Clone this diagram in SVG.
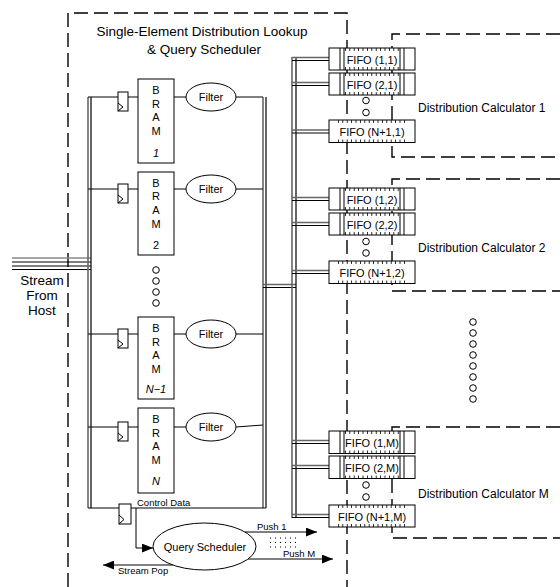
<svg xmlns="http://www.w3.org/2000/svg" width="560" height="587" viewBox="0 0 560 587">
<defs>
<style>
text{font-family:"Liberation Sans",Arial,sans-serif;fill:#000}
.t13{font-size:13.5px}
.t12{font-size:12px}
.t11{font-size:11px}
.t9{font-size:9.5px}
.ln{stroke:#000;stroke-width:1;fill:none}
.bus{stroke:#000;stroke-width:1.2;fill:none}
.bus2{stroke:#666;stroke-width:1.6;fill:none}
.dash{stroke:#000;stroke-width:1.4;fill:none;stroke-dasharray:14 6}
.box{fill:#fff;stroke:#000;stroke-width:1}
.tick{stroke:#000;stroke-width:3;stroke-dasharray:0.8 3.6;fill:none}
.dot{fill:#fff;stroke:#000;stroke-width:1}
</style>
<marker id="ah" viewBox="0 0 10 8" refX="10" refY="4" markerWidth="11" markerHeight="9" markerUnits="userSpaceOnUse" orient="auto">
<path d="M0,0 L10,4 L0,8 Z" fill="#000"/>
</marker>
<g id="reg">
<rect x="0" y="0" width="10" height="19" class="box"/>
<path d="M0,11 L5,15 L0,19" class="ln"/>
</g>
</defs>

<!-- dashed containers -->
<g id="container-lookup">
<path d="M68,587 V13 H347 V587" class="dash"/>
<text class="t13" x="202" y="36" text-anchor="middle">Single-Element Distribution Lookup</text>
<text class="t13" x="204" y="54" text-anchor="middle">&amp; Query Scheduler</text>
</g>
<g id="dc1">
<path d="M560,34 H392 V157 H560" class="dash"/>
<text class="t12" x="418" y="112">Distribution Calculator 1</text>
</g>
<g id="dc2">
<path d="M560,179 H392 V291 H560" class="dash"/>
<text class="t12" x="418" y="252">Distribution Calculator 2</text>
</g>
<g id="dcm">
<path d="M560,427 H392 V538 H560" class="dash"/>
<text class="t12" x="418" y="498">Distribution Calculator M</text>
</g>

<g id="connectors">
<!-- stream from host -->
<line x1="12" y1="258" x2="91" y2="258" stroke="#888" stroke-width="1.5"/>
<line x1="12" y1="262" x2="91" y2="262" class="ln"/>
<line x1="12" y1="266" x2="91" y2="266" class="ln"/>
<line x1="12" y1="269.5" x2="91" y2="269.5" class="ln"/>
<!-- left/right bus -->
<line x1="88" y1="97" x2="88" y2="508" class="bus2"/>
<line x1="91" y1="97" x2="91" y2="508" class="bus"/>
<line x1="263" y1="97" x2="263" y2="508" class="bus2"/>
<line x1="266" y1="97" x2="266" y2="508" class="bus"/>
<line x1="88" y1="508" x2="266" y2="508" class="ln"/>
<!-- rows -->
<path d="M88,97 H118 M128,97 H138 M174,97 H186 M236,97 H263" class="ln"/>
<path d="M88,189 H118 M128,189 H138 M174,189 H186 M236,189 H263" class="ln"/>
<path d="M88,334 H118 M128,334 H138 M174,334 H186 M236,334 H263" class="ln"/>
<path d="M88,427 H118 M128,427 H138 M174,427 H186 M236,427 L263,425" class="ln"/>
<!-- link to FIFO bus -->
<line x1="263" y1="284.5" x2="296" y2="284.5" class="bus2"/>
<line x1="263" y1="287.5" x2="296" y2="287.5" class="bus"/>
<!-- FIFO bus -->
<line x1="292" y1="57" x2="292" y2="518" class="bus2"/>
<line x1="296" y1="57" x2="296" y2="518" class="bus"/>
<g>
<path d="M292,57.5 H329 M292,82.5 H329 M292,130 H329 M292,197.5 H329 M292,222.5 H329 M292,270.5 H329 M292,440.5 H329 M292,465.5 H329 M292,514.5 H329" stroke="#666" stroke-width="1.4"/>
<path d="M292,60.5 H329 M292,85.5 H329 M292,133 H329 M292,200.5 H329 M292,225.5 H329 M292,273.5 H329 M292,443.5 H329 M292,468.5 H329 M292,517.5 H329" class="ln"/>
</g>
<!-- control data to scheduler -->
<path d="M136,508 V548 H153" class="ln" marker-end="url(#ah)"/>
<line x1="245" y1="532" x2="317" y2="532" class="ln" marker-end="url(#ah)"/>
<line x1="248" y1="559" x2="333" y2="559" class="ln" marker-end="url(#ah)"/>
<line x1="173" y1="565" x2="103" y2="565" class="ln" marker-end="url(#ah)"/>
<path d="M270,538 H297 M270,542.5 H297 M270,547 H297" stroke="#000" stroke-width="1" stroke-dasharray="1 4"/>
</g>

<text class="t13" x="42" y="285" text-anchor="middle">Stream</text>
<text class="t13" x="42" y="300" text-anchor="middle">From</text>
<text class="t13" x="42" y="315" text-anchor="middle">Host</text>

<!-- BRAM rows -->
<g id="row1">
<use href="#reg" x="118" y="92"/>
<rect x="138" y="79" width="36" height="84" class="box"/>
<text class="t11" x="156" y="94" text-anchor="middle">B</text>
<text class="t11" x="156" y="107.5" text-anchor="middle">R</text>
<text class="t11" x="156" y="121" text-anchor="middle">A</text>
<text class="t11" x="156" y="135" text-anchor="middle">M</text>
<text class="t11" x="156" y="157" text-anchor="middle" font-style="italic">1</text>
<ellipse cx="211" cy="97" rx="25" ry="14" class="box"/>
<text class="t11" x="211" y="101" text-anchor="middle">Filter</text>
</g>
<g id="row2">
<use href="#reg" x="118" y="184"/>
<rect x="138" y="172" width="36" height="83" class="box"/>
<text class="t11" x="156" y="186.5" text-anchor="middle">B</text>
<text class="t11" x="156" y="200" text-anchor="middle">R</text>
<text class="t11" x="156" y="214" text-anchor="middle">A</text>
<text class="t11" x="156" y="228" text-anchor="middle">M</text>
<text class="t11" x="156" y="249" text-anchor="middle">2</text>
<ellipse cx="211" cy="189" rx="25" ry="14" class="box"/>
<text class="t11" x="211" y="193" text-anchor="middle">Filter</text>
</g>
<g id="row-dots">
<circle cx="156" cy="270" r="3.3" class="dot"/>
<circle cx="156" cy="281" r="3.3" class="dot"/>
<circle cx="156" cy="292" r="3.3" class="dot"/>
<circle cx="156" cy="303" r="3.3" class="dot"/>
</g>
<g id="rowN-1">
<use href="#reg" x="118" y="329"/>
<rect x="138" y="317" width="36" height="82" class="box"/>
<text class="t11" x="156" y="332" text-anchor="middle">B</text>
<text class="t11" x="156" y="345.5" text-anchor="middle">R</text>
<text class="t11" x="156" y="359" text-anchor="middle">A</text>
<text class="t11" x="156" y="373" text-anchor="middle">M</text>
<text class="t11" x="156" y="393" text-anchor="middle" font-style="italic">N−1</text>
<ellipse cx="211" cy="334" rx="25" ry="14" class="box"/>
<text class="t11" x="211" y="338" text-anchor="middle">Filter</text>
</g>
<g id="rowN">
<use href="#reg" x="118" y="422"/>
<rect x="138" y="408" width="36" height="85" class="box"/>
<text class="t11" x="156" y="423" text-anchor="middle">B</text>
<text class="t11" x="156" y="436.5" text-anchor="middle">R</text>
<text class="t11" x="156" y="450" text-anchor="middle">A</text>
<text class="t11" x="156" y="464" text-anchor="middle">M</text>
<text class="t11" x="156" y="485" text-anchor="middle" font-style="italic">N</text>
<ellipse cx="211" cy="427" rx="25" ry="14" class="box"/>
<text class="t11" x="211" y="431" text-anchor="middle">Filter</text>
</g>

<g id="control-reg">
<rect x="119" y="504" width="12" height="20" class="box"/>
<path d="M119,515 L124,519.5 L119,524" class="ln"/>
<text class="t9" x="137" y="506">Control Data</text>
</g>

<g id="query-scheduler">
<ellipse cx="204.5" cy="546.5" rx="51.5" ry="23.5" class="box"/>
<text class="t11" x="205" y="550.5" text-anchor="middle">Query Scheduler</text>
</g>
<text class="t9" x="257" y="530">Push 1</text>
<text class="t9" x="283" y="557">Push M</text>
<text class="t9" x="118" y="574">Stream Pop</text>

<!-- FIFOs -->
<g id="fifos">
<g id="fifo-1-1">
<rect x="329" y="48" width="86" height="22" class="box"/>
<path d="M340,48 V70 M344,48 V70 M400,48 V70 M404,48 V70" class="ln"/>
<path d="M345,49.5 H400 M345,68.5 H400" class="tick"/>
<text class="t11" x="372" y="63.5" text-anchor="middle">FIFO (1,1)</text>
</g>
<g id="fifo-2-1">
<rect x="329" y="73" width="86" height="22" class="box"/>
<path d="M340,73 V95 M344,73 V95 M400,73 V95 M404,73 V95" class="ln"/>
<path d="M345,74.5 H400 M345,93.5 H400" class="tick"/>
<text class="t11" x="372" y="88.5" text-anchor="middle">FIFO (2,1)</text>
</g>
<g id="fifo-n1-1">
<rect x="329" y="120" width="86" height="22.5" class="box"/>
<path d="M338,121.5 H405 M338,141 H405" class="tick"/>
<text class="t11" x="372" y="136" text-anchor="middle">FIFO (N+1,1)</text>
</g>
<g id="fifo-1-2">
<rect x="329" y="188" width="86" height="22" class="box"/>
<path d="M340,188 V210 M344,188 V210 M400,188 V210 M404,188 V210" class="ln"/>
<path d="M345,189.5 H400 M345,208.5 H400" class="tick"/>
<text class="t11" x="372" y="203.5" text-anchor="middle">FIFO (1,2)</text>
</g>
<g id="fifo-2-2">
<rect x="329" y="213" width="86" height="22" class="box"/>
<path d="M340,213 V235 M344,213 V235 M400,213 V235 M404,213 V235" class="ln"/>
<path d="M345,214.5 H400 M345,233.5 H400" class="tick"/>
<text class="t11" x="372" y="228.5" text-anchor="middle">FIFO (2,2)</text>
</g>
<g id="fifo-n1-2">
<rect x="329" y="261" width="86" height="22.5" class="box"/>
<path d="M338,262.5 H405 M338,282 H405" class="tick"/>
<text class="t11" x="372" y="277" text-anchor="middle">FIFO (N+1,2)</text>
</g>
<g id="fifo-1-m">
<rect x="329" y="431" width="86" height="22.5" class="box"/>
<path d="M340,431 V453.5 M344,431 V453.5 M400,431 V453.5 M404,431 V453.5" class="ln"/>
<path d="M345,432.5 H400 M345,452 H400" class="tick"/>
<text class="t11" x="372" y="446.5" text-anchor="middle">FIFO (1,M)</text>
</g>
<g id="fifo-2-m">
<rect x="329" y="456" width="86" height="22.5" class="box"/>
<path d="M340,456 V478.5 M344,456 V478.5 M400,456 V478.5 M404,456 V478.5" class="ln"/>
<path d="M345,457.5 H400 M345,477 H400" class="tick"/>
<text class="t11" x="372" y="471.5" text-anchor="middle">FIFO (2,M)</text>
</g>
<g id="fifo-n1-m">
<rect x="329" y="505" width="86" height="22" class="box"/>
<path d="M338,506.5 H405 M338,525.5 H405" class="tick"/>
<text class="t11" x="372" y="520.5" text-anchor="middle">FIFO (N+1,M)</text>
</g>
</g>

<g id="fifo-dots">
<circle cx="366" cy="100.5" r="3.3" class="dot"/>
<circle cx="366" cy="112.5" r="3.3" class="dot"/>
<circle cx="366" cy="241.5" r="3.3" class="dot"/>
<circle cx="366" cy="253" r="3.3" class="dot"/>
<circle cx="366" cy="485" r="3.3" class="dot"/>
<circle cx="366" cy="497" r="3.3" class="dot"/>
</g>

<g id="dc-dots">
<circle cx="473" cy="322" r="3.3" class="dot"/>
<circle cx="473" cy="333" r="3.3" class="dot"/>
<circle cx="473" cy="344" r="3.3" class="dot"/>
<circle cx="473" cy="355" r="3.3" class="dot"/>
<circle cx="473" cy="366" r="3.3" class="dot"/>
<circle cx="473" cy="377" r="3.3" class="dot"/>
<circle cx="473" cy="388" r="3.3" class="dot"/>
<circle cx="473" cy="399" r="3.3" class="dot"/>
</g>
</svg>
